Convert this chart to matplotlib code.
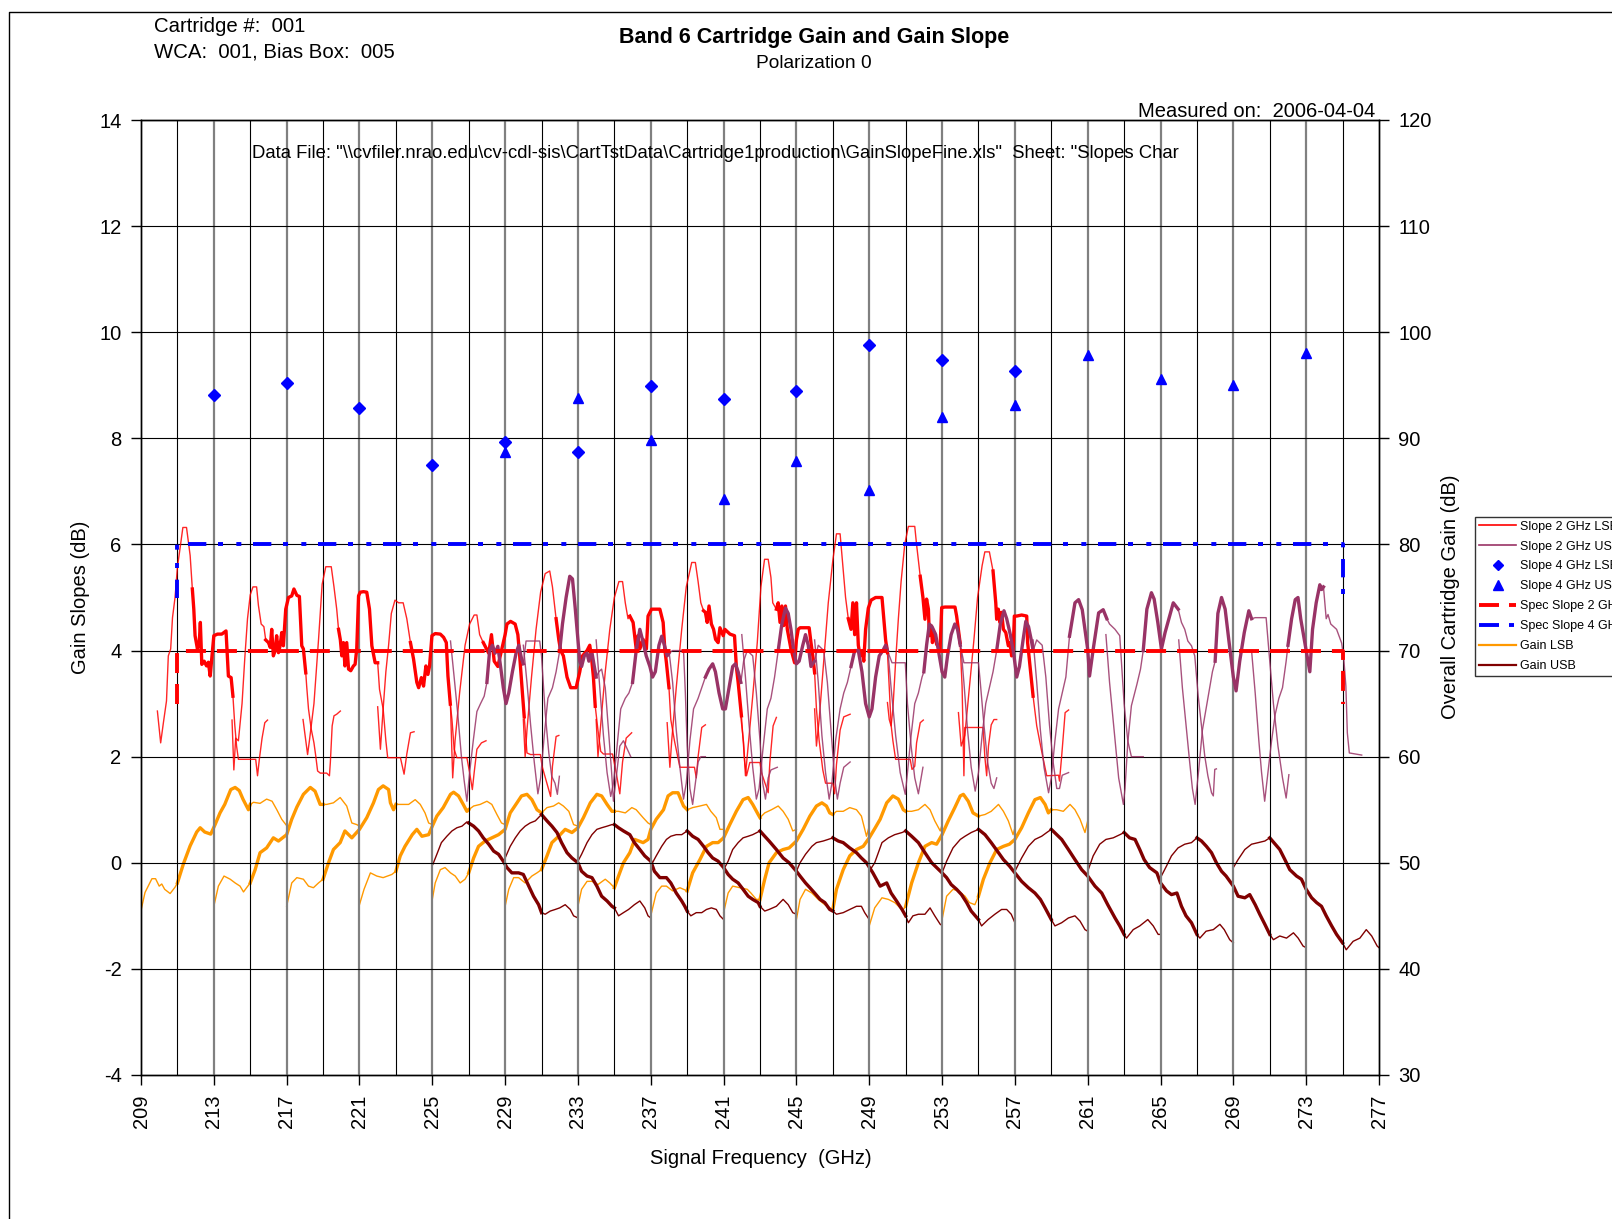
import matplotlib
matplotlib.use("Agg")
import matplotlib.pyplot as plt
from matplotlib.lines import Line2D

plt.rcParams['font.family'] = ['Liberation Sans', 'DejaVu Sans']
plt.rcParams['lines.scale_dashes'] = False
plt.rcParams['axes.unicode_minus'] = False

# ---------------------------------------------------------------- data
lo_freqs = [221, 225, 229, 233, 237, 241, 245, 249, 253, 257, 261, 265]

# Cartridge gain (dB, right axis), one trace per LO setting
gain_lsb = [
    [(209.0,45.5),(209.22,47.2),(209.6,48.5),(209.8,48.5),(210.0,47.8),(210.14,48.0),(210.3,47.5),(210.6,47.1),(210.87,47.7),(211.0,48.1),(211.33,49.9),(211.7,51.6),(212.06,52.9),(212.25,53.3),(212.5,52.9),(212.83,52.7),(213.07,53.6),(213.34,54.7),(213.6,55.5),(213.93,56.9),(214.17,57.1),(214.4,56.8),(214.6,56.0),(214.9,55.0),(215.0,55.5),(215.18,55.7),(215.54,55.6),(215.9,56.0),(216.2,55.8),(216.46,55.0),(216.73,54.1),(217.0,53.5)],
    [(213.0,45.9),(213.25,47.8),(213.56,48.75),(213.9,48.45),(214.17,48.1),(214.44,47.8),(214.63,47.25),(214.8,47.65),(215.0,48.1),(215.27,49.35),(215.54,50.95),(215.9,51.4),(216.27,52.35),(216.55,52.05),(217.0,52.65),(217.28,54.1),(217.56,55.25),(217.92,56.45),(218.3,57.1),(218.56,56.75),(218.84,55.5),(219.0,55.5),(219.2,55.5),(219.57,55.65),(219.94,56.15),(220.3,55.35),(220.58,53.75),(220.85,53.6),(221.0,53.45)],
    [(217.0,45.9),(217.28,48.1),(217.56,48.6),(217.92,48.45),(218.2,47.8),(218.47,47.65),(218.75,48.1),(219.0,48.45),(219.3,50.0),(219.57,51.25),(219.94,51.9),(220.2,53.0),(220.58,52.35),(221.0,53.15),(221.4,54.25),(221.77,55.65),(222.04,56.9),(222.3,57.25),(222.6,56.9),(222.7,55.65),(222.87,55.0),(223.0,55.5),(223.24,55.5),(223.7,55.5),(224.06,55.95),(224.34,55.5),(224.6,54.7),(224.8,53.75),(225.0,53.6)],
    [(221.0,46.05),(221.25,47.5),(221.6,49.05),(221.95,48.75),(222.3,48.6),(222.78,48.9),(223.0,49.2),(223.24,50.65),(223.5,51.55),(223.9,52.65),(224.15,53.15),(224.43,52.5),(224.8,52.65),(225.0,53.45),(225.25,54.4),(225.6,55.2),(226.0,56.45),(226.17,56.65),(226.44,56.3),(226.7,55.5),(226.9,54.85),(227.0,55.0),(227.27,55.35),(227.63,55.5),(228.0,55.8),(228.27,55.5),(228.55,54.55),(228.8,53.75),(229.0,53.6)],
    [(225.0,46.55),(225.16,48.1),(225.44,49.35),(225.7,49.55),(226.0,49.05),(226.26,48.75),(226.53,48.1),(226.8,48.45),(227.0,49.05),(227.27,50.45),(227.54,51.55),(227.9,52.05),(228.27,52.35),(228.64,52.65),(229.0,53.15),(229.28,54.7),(229.65,55.65),(229.9,56.3),(230.2,56.45),(230.47,55.95),(230.75,55.0),(231.0,54.7),(231.3,55.2),(231.66,55.35),(231.94,55.65),(232.2,55.35),(232.5,54.85),(232.76,53.6),(233.0,53.45)],
    [(229.0,45.9),(229.2,47.5),(229.47,48.6),(229.74,48.6),(230.1,48.1),(230.47,48.75),(230.75,49.05),(231.0,49.35),(231.3,50.65),(231.57,51.9),(231.94,52.5),(232.3,53.15),(232.67,52.85),(233.0,53.3),(233.3,54.25),(233.68,55.65),(234.04,56.45),(234.3,56.3),(234.6,55.5),(234.87,54.85),(235.0,54.85),(235.23,54.85),(235.6,54.7),(235.96,55.2),(236.2,55.0),(236.58,54.25),(236.85,53.75),(237.0,53.6)],
    [(233.0,45.9),(233.2,47.5),(233.5,48.25),(233.77,48.25),(234.1,47.95),(234.5,48.45),(234.75,48.1),(235.0,47.65),(235.23,48.75),(235.5,50.0),(235.85,50.95),(236.12,52.2),(236.58,51.9),(236.85,52.2),(237.0,53.15),(237.3,54.1),(237.7,55.0),(237.95,56.3),(238.2,56.6),(238.5,56.6),(238.8,55.35),(239.0,55.0),(239.3,55.2),(239.7,55.35),(240.06,55.5),(240.3,54.85),(240.6,54.25),(240.8,53.15),(241.0,53.15)],
    [(237.0,45.0),(237.3,47.15),(237.6,47.8),(237.86,47.8),(238.2,47.35),(238.6,47.65),(238.8,47.5),(239.0,47.35),(239.3,49.05),(239.7,50.3),(240.06,51.55),(240.4,51.9),(240.7,51.9),(241.0,52.35),(241.34,53.6),(241.7,54.85),(242.07,55.95),(242.35,56.15),(242.6,55.5),(242.9,54.55),(243.0,54.25),(243.26,54.7),(243.63,55.0),(244.0,55.35),(244.27,54.85),(244.55,54.1),(244.8,53.0),(245.0,53.15)],
    [(241.0,45.3),(241.25,47.15),(241.5,47.8),(241.9,47.65),(242.3,47.5),(242.5,47.15),(242.8,46.55),(243.0,46.55),(243.26,48.45),(243.5,50.0),(243.9,50.95),(244.27,51.25),(244.6,51.4),(245.0,52.05),(245.37,53.15),(245.74,54.4),(246.1,55.35),(246.4,55.65),(246.65,55.35),(246.83,54.7),(247.0,54.55),(247.2,54.85),(247.57,54.85),(247.93,55.2),(248.3,55.0),(248.57,54.4),(248.85,52.5),(249.0,53.45)],
    [(245.0,44.65),(245.2,46.55),(245.5,47.5),(245.85,47.15),(246.2,46.55),(246.56,46.05),(246.83,45.75),(247.0,45.6),(247.2,47.5),(247.57,49.35),(247.93,50.65),(248.3,51.25),(248.67,51.55),(249.0,52.35),(249.33,53.3),(249.6,54.1),(249.96,55.65),(250.3,56.3),(250.6,56.0),(250.87,55.0),(251.0,54.85),(251.33,54.85),(251.7,55.0),(252.06,55.5),(252.34,55.0),(252.6,53.95),(252.9,53.0),(253.0,53.6)],
    [(249.0,44.05),(249.3,45.75),(249.7,46.7),(250.05,46.55),(250.4,46.25),(250.7,45.75),(250.87,45.6),(251.0,45.9),(251.33,48.1),(251.7,50.0),(252.06,51.55),(252.43,51.9),(252.7,51.75),(253.0,52.65),(253.34,53.95),(253.7,55.2),(254.0,56.3),(254.17,56.45),(254.44,55.8),(254.7,54.7),(255.0,54.4),(255.36,54.55),(255.7,54.85),(256.1,55.5),(256.37,54.85),(256.64,53.95),(256.9,52.65),(257.0,53.3)],
    [(253.0,44.65),(253.25,46.85),(253.6,47.5),(253.9,47.35),(254.26,46.85),(254.5,46.25),(254.8,46.05),(255.0,46.85),(255.27,48.45),(255.63,50.0),(256.0,51.25),(256.37,51.55),(256.7,51.75),(257.0,52.2),(257.37,53.3),(257.74,54.7),(258.1,55.95),(258.4,56.15),(258.66,55.5),(258.84,54.7),(259.0,55.0),(259.3,55.0),(259.66,54.85),(260.03,55.5),(260.3,55.0),(260.58,54.1),(260.85,52.85),(261.0,53.95)],
]

gain_usb = [
    [(225.03,49.85),(225.25,50.8),(225.5,51.9),(225.8,52.5),(226.08,53.0),(226.35,53.3),(226.63,53.45),(226.9,53.85),(227.0,53.75),(227.27,53.45),(227.54,53.0),(227.8,52.35),(228.1,51.75),(228.37,51.1),(228.64,50.8),(228.9,50.15),(229.1,49.55),(229.37,49.05),(229.74,49.05),(230.0,48.9),(230.3,47.8),(230.56,46.85),(230.84,46.05),(231.0,45.3),(231.2,45.15),(231.48,45.45),(231.75,45.6),(232.0,45.75),(232.3,46.05),(232.58,45.6),(232.76,45.0),(233.0,44.8)],
    [(229.0,50.45),(229.28,51.55),(229.56,52.35),(229.83,53.0),(230.1,53.45),(230.37,53.75),(230.66,53.95),(231.0,54.55),(231.3,53.95),(231.57,53.45),(231.85,52.85),(232.1,51.9),(232.4,50.95),(232.67,50.45),(233.0,50.0),(233.2,49.2),(233.5,48.75),(233.77,48.6),(234.04,47.8),(234.3,46.85),(234.6,46.4),(234.87,45.9),(235.0,45.75),(235.23,45.0),(235.5,45.3),(235.78,45.6),(236.1,46.05),(236.4,46.4),(236.67,45.75),(236.85,45.0),(237.0,44.8)],
    [(233.0,50.15),(233.2,50.8),(233.5,51.9),(233.77,52.65),(234.04,53.15),(234.3,53.3),(234.6,53.45),(234.87,53.6),(235.0,53.6),(235.23,53.3),(235.5,53.0),(235.85,52.65),(236.1,51.9),(236.4,51.25),(236.67,50.65),(237.0,50.15),(237.2,49.2),(237.5,48.6),(237.86,48.6),(238.1,48.1),(238.4,47.15),(238.7,46.4),(238.87,45.9),(239.0,45.45),(239.2,45.0),(239.5,45.3),(239.8,45.3),(240.06,45.6),(240.33,45.75),(240.6,45.6),(240.8,45.0),(241.0,44.65)],
    [(237.0,49.7),(237.3,50.65),(237.6,51.55),(237.86,52.2),(238.1,52.5),(238.4,52.65),(238.7,52.65),(239.0,53.0),(239.3,52.5),(239.6,52.2),(239.9,51.55),(240.15,50.95),(240.4,50.45),(240.7,50.15),(241.0,49.55),(241.25,48.9),(241.5,48.45),(241.8,48.1),(242.07,47.5),(242.35,46.85),(242.6,46.55),(242.9,46.25),(243.0,45.9),(243.26,45.45),(243.5,45.6),(243.9,45.9),(244.27,46.55),(244.55,46.05),(244.8,45.3),(245.0,45.15)],
    [(241.0,49.35),(241.25,50.15),(241.5,51.25),(241.8,51.9),(242.07,52.35),(242.35,52.5),(242.6,52.65),(243.0,53.0),(243.26,52.5),(243.5,52.05),(243.9,51.25),(244.27,50.45),(244.6,50.0),(245.0,49.2),(245.2,48.75),(245.5,48.1),(245.74,47.65),(246.0,47.15),(246.3,46.55),(246.56,46.25),(246.83,45.6),(247.0,45.45),(247.2,45.15),(247.57,45.3),(247.93,45.6),(248.3,45.9),(248.57,45.9),(248.75,45.3),(249.0,44.65)],
    [(245.0,49.2),(245.2,50.0),(245.5,50.8),(245.85,51.55),(246.1,51.9),(246.47,52.05),(246.74,52.2),(247.0,52.35),(247.3,52.05),(247.57,51.9),(247.93,51.4),(248.3,50.95),(248.57,50.45),(248.85,50.0),(249.2,49.05),(249.6,47.8),(249.96,48.1),(250.2,47.15),(250.5,46.4),(250.8,45.6),(251.0,45.0),(251.15,44.35),(251.4,45.0),(251.7,45.15),(252.06,45.15),(252.34,45.75),(252.6,45.0),(252.9,44.2),(253.0,44.1)],
    [(249.0,49.2),(249.3,50.0),(249.7,51.9),(250.05,52.35),(250.4,52.65),(250.8,52.85),(251.0,53.0),(251.33,52.5),(251.7,51.9),(252.06,50.95),(252.43,50.0),(252.7,49.55),(253.0,49.05),(253.25,48.6),(253.5,47.95),(253.8,47.5),(254.07,47.0),(254.35,46.25),(254.6,45.45),(255.0,44.65),(255.17,44.05),(255.53,44.65),(255.9,45.15),(256.27,45.6),(256.55,45.6),(256.8,45.15),(257.0,44.35)],
    [(253.0,49.05),(253.25,50.15),(253.6,51.4),(254.0,52.2),(254.26,52.5),(254.6,52.85),(255.0,53.15),(255.36,52.65),(255.7,51.9),(256.1,50.95),(256.37,50.3),(256.7,49.7),(257.0,49.05),(257.37,48.25),(257.74,47.65),(258.1,47.15),(258.4,46.55),(258.66,45.75),(259.0,44.65),(259.2,44.05),(259.57,44.35),(259.94,44.8),(260.3,45.0),(260.58,44.5),(260.85,43.7),(261.0,43.55)],
    [(257.0,49.2),(257.37,50.45),(257.74,51.55),(258.1,52.2),(258.47,52.5),(258.75,52.85),(259.0,53.15),(259.3,52.65),(259.57,52.2),(259.94,51.25),(260.3,50.3),(260.67,49.35),(261.0,48.75),(261.4,47.8),(261.77,47.15),(262.1,46.05),(262.5,44.8),(262.76,44.05),(263.0,43.25),(263.13,42.9),(263.5,43.7),(263.86,44.05),(264.3,44.65),(264.6,44.05),(264.87,43.25),(265.0,43.25)],
    [(261.0,49.2),(261.3,50.65),(261.66,51.75),(262.0,52.2),(262.4,52.35),(262.77,52.65),(263.0,52.85),(263.3,52.35),(263.6,52.2),(263.86,51.25),(264.1,50.3),(264.4,49.55),(264.8,49.05),(265.0,48.1),(265.33,47.35),(265.6,47.0),(265.9,47.15),(266.15,45.9),(266.4,45.0),(266.7,44.35),(267.0,43.25),(267.16,42.9),(267.5,43.55),(267.9,43.7),(268.26,44.2),(268.5,43.7),(268.8,42.75),(269.0,42.45)],
    [(265.0,48.6),(265.33,49.7),(265.6,50.65),(265.96,51.4),(266.33,51.75),(266.7,51.9),(267.0,52.35),(267.25,52.05),(267.52,51.55),(267.8,50.95),(268.07,50.0),(268.35,49.2),(268.6,48.75),(269.0,47.8),(269.26,46.85),(269.63,46.7),(269.9,47.0),(270.2,46.05),(270.45,45.15),(270.73,44.2),(271.0,43.25),(271.2,42.75),(271.55,43.1),(271.92,42.9),(272.3,43.4),(272.56,42.9),(272.83,42.15),(273.0,42.0)],
    [(269.0,49.55),(269.26,50.3),(269.63,51.25),(270.0,51.75),(270.37,51.9),(270.73,52.05),(271.0,52.35),(271.3,51.75),(271.55,51.25),(271.83,50.3),(272.1,49.35),(272.47,48.75),(272.74,48.45),(273.0,47.5),(273.3,46.7),(273.57,46.25),(273.84,45.9),(274.1,45.0),(274.4,44.05),(274.67,43.25),(275.0,42.45),(275.2,41.8),(275.58,42.6),(275.95,42.9),(276.3,43.7),(276.6,43.1),(276.9,42.15),(277.0,42.0)],
]

# Gain slope over 2 GHz windows (dB, left axis)
slope2_lsb = [
    [(209.9,2.86),(210.08,2.26),(210.23,2.64),(210.4,3.05),(210.5,3.9),(210.63,4.03),(210.73,4.62),(210.87,5.0),(211.0,5.57),(211.15,5.94),(211.3,6.32),(211.5,6.32),(211.7,5.79),(211.82,5.16),(211.9,4.78),(211.97,4.28),(212.1,4.03),(212.2,4.15),(212.26,4.53),(212.34,3.74),(212.47,3.8),(212.6,3.71),(212.7,3.78),(212.8,3.52),(212.9,3.9),(213.0,4.28),(213.2,4.31),(213.44,4.31),(213.67,4.37),(213.8,3.52),(213.95,3.49),(214.05,3.14),(214.15,2.6),(214.25,2.2),(214.35,1.95),(215.3,1.95),(215.4,1.64),(215.5,1.95),(215.65,2.35),(215.8,2.64),(215.95,2.69)],
    [(214.0,2.69),(214.1,1.75),(214.2,2.35),(214.35,2.3),(214.55,3.0),(214.7,3.85),(214.85,4.6),(215.0,5.05),(215.15,5.2),(215.35,5.2),(215.45,4.85),(215.6,4.5),(215.75,4.45),(215.85,4.2),(216.0,4.15),(216.1,4.06),(216.18,4.4),(216.27,3.9),(216.37,4.0),(216.45,4.28),(216.55,3.96),(216.64,4.09),(216.73,4.34),(216.82,4.09),(216.95,4.78),(217.1,5.0),(217.28,5.03),(217.4,5.16),(217.56,5.04),(217.7,5.02),(217.83,4.09),(217.92,4.03),(218.05,3.58),(218.1,3.33),(218.2,2.9),(218.35,2.52),(218.5,2.26),(218.6,2.01),(218.7,1.73),(218.85,1.69),(219.2,1.69),(219.35,1.64),(219.4,1.89),(219.5,2.58),(219.6,2.77),(219.75,2.8),(219.95,2.86)],
    [(217.9,2.7),(218.15,2.04),(218.25,2.3),(218.5,3.0),(218.75,4.2),(218.95,5.25),(219.15,5.58),(219.45,5.58),(219.6,5.2),(219.75,4.78),(219.85,4.4),(219.95,4.2),(220.03,3.9),(220.12,4.15),(220.2,3.71),(220.3,4.15),(220.4,3.65),(220.52,3.62),(220.67,3.71),(220.76,3.74),(220.85,4.03),(220.95,5.03),(221.04,5.1),(221.22,5.11),(221.4,5.1),(221.55,4.78),(221.68,4.09),(221.86,3.77),(222.0,3.77),(222.1,3.27),(222.3,2.9),(222.45,2.3),(222.55,1.98),(223.25,1.98),(223.45,1.67),(223.6,2.05),(223.8,2.45),(224.0,2.47)],
    [(222.0,2.94),(222.15,2.14),(222.3,2.9),(222.45,3.6),(222.6,4.1),(222.75,4.7),(222.95,4.95),(223.15,4.9),(223.4,4.9),(223.6,4.6),(223.8,4.15),(223.97,3.84),(224.15,3.4),(224.25,3.3),(224.4,3.49),(224.52,3.33),(224.65,3.71),(224.76,3.55),(224.85,3.71),(224.98,4.28),(225.16,4.32),(225.44,4.31),(225.62,4.25),(225.77,4.15),(225.86,3.52),(225.99,2.99),(226.08,2.7),(226.2,2.14),(226.35,1.98),(226.9,1.98),(227.05,1.7),(227.2,1.38),(227.3,1.7),(227.45,2.14),(227.7,2.26),(227.95,2.3)],
    [(226.0,2.95),(226.12,1.6),(226.25,2.3),(226.5,3.2),(226.8,4.1),(227.05,4.5),(227.3,4.67),(227.45,4.67),(227.6,4.3),(227.8,4.15),(227.95,4.05),(228.1,3.95),(228.25,4.3),(228.4,3.8),(228.6,3.7),(228.8,4.0),(229.0,4.3),(229.1,4.5),(229.3,4.55),(229.55,4.5),(229.7,4.3),(229.8,3.9),(229.95,3.2),(230.05,2.75),(230.2,2.07),(230.4,2.04),(230.94,2.04),(231.03,1.82),(231.5,1.25),(231.6,1.82),(231.8,2.38),(231.95,2.4)],
    [(230.0,2.7),(230.1,2.0),(230.2,2.5),(230.45,3.5),(230.7,4.4),(230.95,5.1),(231.2,5.45),(231.45,5.5),(231.6,5.2),(231.8,4.6),(231.95,4.2),(232.05,4.0),(232.2,3.9),(232.4,3.5),(232.6,3.3),(232.9,3.3),(233.1,3.6),(233.25,3.9),(233.5,4.0),(233.65,4.1),(233.75,3.85),(233.85,3.5),(233.95,2.95),(234.1,2.5),(234.25,2.1),(234.4,2.05),(234.9,2.05),(235.1,1.7),(235.3,1.3),(235.45,1.9),(235.65,2.35),(235.95,2.45)],
    [(234.0,2.7),(234.1,2.0),(234.25,2.6),(234.5,3.6),(234.75,4.4),(235.0,5.0),(235.25,5.3),(235.45,5.3),(235.6,4.9),(235.75,4.6),(235.85,4.65),(236.03,4.53),(236.2,4.03),(236.3,4.28),(236.4,4.03),(236.58,4.21),(236.76,4.03),(236.85,4.65),(237.04,4.78),(237.5,4.78),(237.68,4.53),(237.77,4.03),(237.86,3.77),(238.0,3.3),(238.1,2.7),(238.3,2.3),(238.6,1.8),(239.4,1.8),(239.5,1.6),(239.6,2.0),(239.8,2.55),(240.0,2.6)],
    [(237.9,2.64),(238.05,1.8),(238.15,2.3),(238.4,3.3),(238.7,4.4),(238.95,5.2),(239.25,5.66),(239.45,5.66),(239.6,5.3),(239.75,4.9),(239.9,4.75),(240.0,4.72),(240.1,4.53),(240.2,4.84),(240.33,4.5),(240.45,4.4),(240.56,4.21),(240.7,4.15),(240.8,4.43),(240.98,4.28),(241.07,4.4),(241.35,4.31),(241.6,4.28),(241.7,3.7),(241.8,3.4),(241.98,2.77),(242.16,1.89),(242.26,1.64),(242.44,1.89),(243.0,1.89),(243.08,1.7),(243.45,1.32),(243.54,1.89),(243.72,2.58),(243.9,2.74)],
    [(241.95,2.74),(242.1,2.26),(242.2,1.64),(242.35,2.2),(242.6,3.14),(242.85,4.15),(243.05,5.2),(243.25,5.72),(243.45,5.72),(243.6,5.38),(243.7,4.9),(243.9,4.78),(244.0,4.9),(244.1,4.53),(244.2,4.84),(244.3,4.47),(244.4,4.84),(244.5,4.4),(244.7,4.03),(244.9,3.77),(245.0,4.2),(245.1,4.4),(245.2,4.43),(245.7,4.43),(245.8,4.15),(245.9,3.9),(246.0,3.58),(246.1,2.9),(246.25,2.3),(246.45,1.75),(246.6,1.5),(247.0,1.5),(247.1,1.3),(247.2,1.85),(247.4,2.5),(247.6,2.75),(247.95,2.8)],
    [(246.0,2.9),(246.1,2.2),(246.25,2.7),(246.5,3.8),(246.75,4.9),(247.0,5.7),(247.2,6.2),(247.4,6.2),(247.55,5.6),(247.7,5.0),(247.85,4.6),(248.0,4.4),(248.1,4.9),(248.2,4.3),(248.3,4.9),(248.4,4.1),(248.5,3.9),(248.6,4.0),(248.7,3.8),(248.8,4.4),(248.95,4.8),(249.1,4.95),(249.35,5.0),(249.7,5.0),(249.8,4.6),(249.9,4.2),(250.0,3.96),(250.1,3.3),(250.2,2.6),(250.3,2.3),(250.45,1.95),(251.25,1.95),(251.35,1.76),(251.5,1.82),(251.6,2.26),(251.8,2.64),(251.97,2.69)],
    [(250.0,3.02),(250.1,2.7),(250.2,2.58),(250.3,2.9),(250.45,3.8),(250.6,4.6),(250.75,5.3),(250.95,6.0),(251.15,6.34),(251.5,6.34),(251.6,6.0),(251.8,5.4),(251.95,5.0),(252.06,4.59),(252.15,4.97),(252.25,4.78),(252.3,4.28),(252.4,4.47),(252.47,4.15),(252.58,4.34),(252.7,4.12),(252.89,4.03),(252.98,4.81),(253.16,4.82),(253.71,4.82),(253.8,4.65),(253.99,4.15),(254.1,3.33),(254.15,2.5),(254.2,1.64),(254.25,2.55),(255.25,2.55),(255.35,2.0),(255.45,1.64),(255.55,2.2),(255.7,2.6),(255.85,2.7),(256.0,2.7)],
    [(253.9,2.83),(254.05,2.2),(254.25,2.4),(254.5,3.3),(254.75,4.2),(254.95,5.0),(255.2,5.6),(255.35,5.86),(255.6,5.86),(255.8,5.5),(255.95,4.9),(256.0,4.59),(256.09,4.78),(256.18,4.53),(256.27,4.72),(256.37,4.4),(256.5,4.34),(256.64,4.09),(256.73,4.15),(256.82,3.9),(256.9,3.93),(256.97,4.65),(257.1,4.65),(257.37,4.67),(257.65,4.65),(257.7,4.15),(257.83,3.71),(258.0,3.14),(258.2,2.58),(258.38,2.26),(258.56,1.95),(258.75,1.64),(259.4,1.65),(259.45,1.54),(259.57,2.01),(259.76,2.83),(259.95,2.88)],
]

slope2_usb = [
    [(226.0,4.18),(226.2,3.5),(226.4,2.8),(226.6,2.0),(226.75,1.55),(226.9,1.16),(227.05,1.7),(227.25,2.3),(227.45,2.85),(227.65,3.0),(227.85,3.14),(228.0,3.4),(228.15,4.0),(228.3,4.1),(228.45,3.95),(228.6,4.08),(228.75,3.7),(228.9,3.3),(229.05,3.0),(229.2,3.2),(229.4,3.6),(229.6,3.95),(229.75,4.1),(229.9,3.85),(230.0,3.75),(230.15,4.18),(230.9,4.18),(231.0,3.9),(231.2,2.83),(231.4,2.07),(231.56,1.63),(231.74,1.5),(231.87,1.29),(231.98,1.63)],
    [(230.0,4.1),(230.2,3.4),(230.4,2.6),(230.6,1.9),(230.8,1.3),(230.95,1.6),(231.15,2.4),(231.35,3.1),(231.6,3.3),(231.8,3.6),(232.0,4.0),(232.15,4.5),(232.35,5.0),(232.55,5.4),(232.7,5.35),(232.85,4.8),(233.0,4.2),(233.1,3.8),(233.2,3.7),(233.35,3.9),(233.5,3.95),(233.6,3.8),(233.75,4.0),(233.9,3.7),(234.0,3.5),(234.15,3.6),(234.3,3.65),(234.5,3.3),(234.7,2.4),(234.85,1.7),(234.95,1.16),(235.1,1.6),(235.3,2.2),(235.5,2.3),(235.9,2.0)],
    [(234.0,4.2),(234.2,3.3),(234.4,2.4),(234.6,1.7),(234.8,1.25),(234.95,1.5),(235.15,2.2),(235.35,2.9),(235.6,3.1),(235.8,3.2),(236.0,3.4),(236.2,4.0),(236.4,4.4),(236.55,4.2),(236.75,3.9),(236.95,3.7),(237.1,3.5),(237.25,3.6),(237.45,4.1),(237.6,4.27),(237.75,4.1),(237.9,3.9),(238.0,3.95),(238.2,4.0),(238.8,4.0),(238.9,3.2),(239.0,2.2),(239.15,1.4),(239.3,1.1),(239.45,1.5),(239.6,1.9),(239.75,2.0),(240.0,2.0)],
    [(238.0,4.0),(238.2,3.4),(238.4,2.5),(238.6,1.8),(238.8,1.2),(238.95,1.5),(239.15,2.3),(239.35,2.9),(239.6,3.1),(239.8,3.3),(240.0,3.5),(240.2,3.65),(240.4,3.75),(240.55,3.6),(240.75,3.2),(240.95,2.9),(241.1,2.9),(241.3,3.3),(241.5,3.7),(241.65,3.75),(241.8,3.6),(241.95,3.4),(242.1,3.8),(242.3,4.0),(242.6,3.9),(242.8,3.2),(243.0,2.3),(243.15,1.5),(243.3,1.2),(243.45,1.6),(243.6,1.75),(243.95,1.8)],
    [(242.0,4.3),(242.2,3.5),(242.4,2.6),(242.6,1.8),(242.8,1.2),(242.95,1.4),(243.15,2.1),(243.4,2.9),(243.6,3.1),(243.8,3.5),(244.0,4.0),(244.2,4.5),(244.4,4.8),(244.55,4.7),(244.7,4.4),(244.85,4.0),(245.0,3.75),(245.15,3.8),(245.35,4.1),(245.5,4.3),(245.65,4.1),(245.8,3.7),(246.0,3.8),(246.2,4.1),(246.5,4.0),(246.7,3.4),(246.9,2.5),(247.1,1.6),(247.25,1.2),(247.4,1.5),(247.6,1.8),(247.95,1.9)],
    [(246.0,4.2),(246.2,3.4),(246.4,2.4),(246.6,1.7),(246.8,1.2),(246.95,1.5),(247.15,2.3),(247.4,2.9),(247.6,3.2),(247.8,3.4),(248.0,3.7),(248.2,4.0),(248.4,4.0),(248.6,3.6),(248.8,3.0),(249.0,2.75),(249.15,2.9),(249.35,3.5),(249.55,3.9),(249.75,4.0),(249.9,4.1),(250.0,4.0),(250.25,3.77),(250.98,3.77),(251.1,3.0),(251.3,2.2),(251.5,1.6),(251.7,1.3),(251.85,1.6),(251.95,1.8)],
    [(250.0,4.1),(250.2,3.3),(250.45,2.4),(250.7,1.7),(250.98,1.29),(251.1,1.7),(251.3,2.4),(251.5,3.0),(251.7,3.2),(251.9,3.5),(252.0,3.6),(252.15,4.1),(252.3,4.5),(252.45,4.45),(252.65,4.3),(252.85,3.9),(253.0,3.6),(253.15,3.5),(253.3,3.9),(253.5,4.3),(253.7,4.5),(253.85,4.4),(254.0,4.1),(254.2,3.77),(255.0,3.77),(255.1,3.4),(255.3,2.6),(255.5,1.9),(255.7,1.5),(255.85,1.4),(256.0,1.6)],
    [(254.0,4.2),(254.2,3.4),(254.4,2.5),(254.6,1.8),(254.82,1.35),(255.0,1.7),(255.2,2.4),(255.4,3.0),(255.6,3.3),(255.8,3.6),(256.0,4.0),(256.2,4.5),(256.4,4.75),(256.55,4.6),(256.75,4.3),(256.95,3.9),(257.1,3.5),(257.25,3.7),(257.45,4.2),(257.6,4.55),(257.75,4.45),(257.9,4.2),(258.0,4.0),(258.2,4.2),(258.5,4.1),(258.7,3.5),(258.9,2.6),(259.1,1.9),(259.3,1.4),(259.45,1.4),(259.6,1.65),(259.95,1.7)],
    [(258.0,4.2),(258.2,3.4),(258.4,2.5),(258.6,1.8),(258.85,1.32),(259.0,1.6),(259.2,2.3),(259.4,2.9),(259.6,3.2),(259.8,3.5),(260.0,4.27),(260.3,4.9),(260.5,4.96),(260.7,4.77),(261.0,4.02),(261.1,3.52),(261.3,4.02),(261.6,4.71),(261.85,4.77),(262.05,4.6),(262.2,4.5),(262.5,4.4),(262.76,4.28),(263.0,3.0),(263.2,2.3),(263.4,2.0),(264.05,2.0)],
    [(262.0,4.3),(262.2,3.4),(262.45,2.5),(262.7,1.6),(262.96,1.1),(263.05,1.4),(263.2,2.26),(263.4,2.96),(263.7,3.36),(263.9,3.65),(264.05,4.0),(264.25,4.78),(264.5,5.09),(264.65,4.97),(264.85,4.53),(265.05,4.03),(265.25,4.34),(265.5,4.65),(265.7,4.9),(265.97,4.78),(266.15,4.53),(266.33,4.4),(266.5,4.18),(266.7,4.09),(266.88,3.9),(267.07,3.14),(267.25,2.58),(267.43,2.01),(267.6,1.64),(267.8,1.32),(267.9,1.26),(267.98,1.76),(268.07,1.77)],
    [(266.0,4.2),(266.2,3.3),(266.4,2.6),(266.6,1.9),(266.75,1.4),(266.9,1.1),(267.1,1.76),(267.3,2.5),(267.5,2.9),(267.7,3.3),(267.85,3.6),(268.0,3.8),(268.15,4.7),(268.35,5.0),(268.55,4.78),(268.75,4.2),(269.0,3.5),(269.15,3.24),(269.35,3.8),(269.6,4.34),(269.85,4.75),(270.0,4.6),(270.2,4.62),(270.8,4.62),(270.95,4.0),(271.2,3.0),(271.45,2.2),(271.7,1.6),(271.9,1.22),(272.05,1.66)],
    [(270.0,4.0),(270.2,3.2),(270.4,2.3),(270.55,1.7),(270.72,1.16),(270.9,1.7),(271.1,2.3),(271.3,2.8),(271.5,3.1),(271.7,3.3),(271.9,3.8),(272.0,4.1),(272.2,4.6),(272.4,4.96),(272.55,5.0),(272.7,4.6),(272.9,4.2),(273.05,3.9),(273.2,3.6),(273.35,4.4),(273.55,4.9),(273.75,5.24),(273.85,5.15),(273.95,5.2),(274.1,4.6),(274.2,4.68),(274.35,4.5),(274.67,4.4),(274.95,4.14),(275.07,3.83),(275.18,3.33),(275.26,2.45),(275.37,2.07),(276.05,2.03)],
]

# Gain slope over 4 GHz windows, one value per LO
slope4_lsb_f = [213, 217, 221, 225, 229, 233, 237, 241, 245, 249, 253, 257]
slope4_lsb = [8.82, 9.05, 8.57, 7.50, 7.93, 7.75, 8.99, 8.74, 8.90, 9.75, 9.48, 9.26]
slope4_usb_f = [229, 233, 237, 241, 245, 249, 253, 257, 261, 265, 269, 273]
slope4_usb = [7.75, 8.76, 7.97, 6.86, 7.58, 7.02, 8.41, 8.62, 9.57, 9.11, 9.01, 9.61]

# Specification limits
spec_f = [211, 211, 275, 275]
spec2 = [3.0, 4.0, 4.0, 3.0]
spec4 = [5.0, 6.0, 6.0, 5.0]

# ---------------------------------------------------------------- styles
RED = '#FF0000'
PLUM = '#993366'
ORANGE = '#FF9900'
MAROON = '#800000'
BLUE = '#0000FF'
THIN = 1.0
THICK = 2.4
dash_red = (0, (14.4, 7.9))
dash_blue = (0, (13.2, 8.4, 3.6, 9.6, 3.6, 8.4))


def split(points):
    return [p[0] for p in points], [p[1] for p in points]


def middle(points, lo, hi):
    return [p for p in points if lo <= p[0] <= hi]


W, H = 1612, 1219
fig = plt.figure(figsize=(W / 100, H / 100), dpi=100)
ax = fig.add_axes([141 / W, 1 - 1075 / H, (1379 - 141) / W, (1075 - 120) / H])
ax2 = ax.twinx()

ax.set_xlim(209, 277)
ax.set_ylim(-4, 14)
ax2.set_ylim(30, 120)

# grid
for x in range(211, 277, 2):
    major = (x - 209) % 4 == 0
    ax.axvline(x, color='#808080' if major else 'black',
               lw=1.6 if major else 0.8, zorder=0.5)
for y in range(-2, 15, 2):
    ax.axhline(y, color='black', lw=0.8, zorder=0.5)

# slope traces: full range thin, central range thick
for lo, pts in zip(lo_freqs, slope2_lsb):
    ax.plot(*split(pts), color=RED, lw=THIN, alpha=0.85, zorder=2)
for lo, pts in zip(lo_freqs, slope2_usb):
    ax.plot(*split(pts), color=PLUM, lw=THIN, alpha=0.85, zorder=2)
for lo, pts in zip(lo_freqs, slope2_lsb):
    ax.plot(*split(middle(pts, lo - 9.2, lo - 6.95)), color=RED, lw=THICK,
            zorder=3, solid_joinstyle='round')
for lo, pts in zip(lo_freqs, slope2_usb):
    ax.plot(*split(middle(pts, lo + 6.95, lo + 9.05)), color=PLUM, lw=THICK,
            zorder=3, solid_joinstyle='round')

ax.plot(slope4_lsb_f, slope4_lsb, 'D', color=BLUE, ms=6, zorder=4)
ax.plot(slope4_usb_f, slope4_usb, '^', color=BLUE, ms=7.5, zorder=4)

ax.plot(spec_f, spec2, color=RED, lw=2.8, ls=dash_red, zorder=4)
ax.plot(spec_f, spec4, color=BLUE, lw=2.8, ls=dash_blue, zorder=4)

# gain traces on the secondary axis
for lo, pts in zip(lo_freqs, gain_lsb):
    ax2.plot(*split(pts), color=ORANGE, lw=THIN, zorder=2)
for lo, pts in zip(lo_freqs, gain_usb):
    ax2.plot(*split(pts), color=MAROON, lw=THIN, zorder=2)
for lo, pts in zip(lo_freqs, gain_lsb):
    ax2.plot(*split(middle(pts, lo - 10.01, lo - 5.99)), color=ORANGE,
             lw=THICK, zorder=3, solid_joinstyle='round')
for lo, pts in zip(lo_freqs, gain_usb):
    ax2.plot(*split(middle(pts, lo + 5.99, lo + 10.01)), color=MAROON,
             lw=THICK, zorder=3, solid_joinstyle='round')

# axes, ticks
xt = list(range(209, 278, 4))
ax.set_xticks(xt)
ax.set_xticklabels([str(v) for v in xt], rotation=90)
ax.set_yticks(range(-4, 15, 2))
ax2.set_yticks(range(30, 121, 10))
ax.tick_params(axis='both', direction='out', length=7, width=1,
               labelsize=14.5, pad=7)
ax2.tick_params(axis='y', direction='out', length=7, width=1,
                labelsize=14.5, pad=7)
for a in (ax, ax2):
    for s in a.spines.values():
        s.set_linewidth(1.0)
        s.set_color('black')
ax.set_zorder(ax2.get_zorder() + 1)
ax.patch.set_visible(False)

# texts
fig.text(80 / W, 1 - 597 / H, 'Gain Slopes (dB)', rotation=90,
         ha='center', va='center', fontsize=14.5)
fig.text(1450 / W, 1 - 597 / H, 'Overall Cartridge Gain (dB)', rotation=90,
         ha='center', va='center', fontsize=14.5)
fig.text(761 / W, 1 - 1159 / H, 'Signal Frequency  (GHz)',
         ha='center', va='center', fontsize=14.5)
fig.text(154 / W, 1 - 32 / H, 'Cartridge #:  001', fontsize=14.7, va='baseline')
fig.text(154 / W, 1 - 57 / H, 'WCA:  001, Bias Box:  005', fontsize=14.7,
         va='baseline')
fig.text(814 / W, 1 - 43 / H, 'Band 6 Cartridge Gain and Gain Slope',
         ha='center', va='baseline', fontsize=15.5, fontweight='bold')
fig.text(814 / W, 1 - 68 / H, 'Polarization 0', ha='center', va='baseline',
         fontsize=13.8)
fig.text(1375 / W, 1 - 117 / H, 'Measured on:  2006-04-04', ha='right',
         va='baseline', fontsize=14.5)
fig.text(252 / W, 1 - 158 / H,
         'Data File: "\\\\cvfiler.nrao.edu\\cv-cdl-sis\\CartTstData\\Cartridge1production\\GainSlopeFine.xls"  Sheet: "Slopes Char',
         ha='left', va='baseline', fontsize=13.3)

# legend (the sheet edge trims its right side)
handles = [
    Line2D([], [], color=RED, lw=1.2),
    Line2D([], [], color=PLUM, lw=1.2),
    Line2D([], [], color=BLUE, marker='D', ls='none', ms=5),
    Line2D([], [], color=BLUE, marker='^', ls='none', ms=6.5),
    Line2D([], [], color=RED, lw=2.8, ls=(0, (14.4, 7.2))),
    Line2D([], [], color=BLUE, lw=2.8, ls=(0, (14.4, 7.2, 3.6, 7.2))),
    Line2D([], [], color=ORANGE, lw=1.6),
    Line2D([], [], color=MAROON, lw=1.6),
]
labels = ['Slope 2 GHz LSB', 'Slope 2 GHz USB', 'Slope 4 GHz LSB',
          'Slope 4 GHz USB', 'Spec Slope 2 GHz', 'Spec Slope 4 GHz',
          'Gain LSB', 'Gain USB']
leg = fig.legend(handles, labels, loc='upper left',
                 bbox_to_anchor=(1475 / W, 1 - 517 / H), fontsize=9,
                 frameon=True, fancybox=False, edgecolor='black',
                 handlelength=3.0, handletextpad=0.32, labelspacing=0.63,
                 borderpad=0.3, borderaxespad=0)
leg.get_frame().set_linewidth(1.0)

# outer frame of the sheet
fig.add_artist(Line2D([9 / W, 9 / W, 1.01], [-0.01, 1 - 12 / H, 1 - 12 / H],
                      transform=fig.transFigure, color='black', lw=1.0))

fig.savefig('out.png', dpi=100)
